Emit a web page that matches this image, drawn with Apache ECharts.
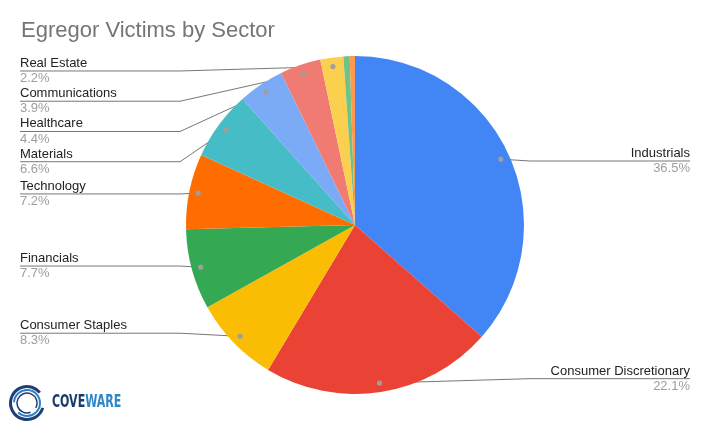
<!DOCTYPE html>
<html><head><meta charset="utf-8">
<script src="https://cdn.jsdelivr.net/npm/echarts@6/dist/echarts.min.js"></script>
<style>html,body{margin:0;padding:0;background:#fff}#c{width:710px;height:433px}</style>
</head><body><div id="c"></div>
<script>
const categories = ['Industrials','Consumer Discretionary','Consumer Staples','Financials','Technology','Materials','Healthcare','Communications','Real Estate','Other (unlabeled)','Other (unlabeled) 2'];
const shares = [36.5, 22.1, 8.3, 7.7, 7.2, 6.6, 4.4, 3.9, 2.2, 0.6, 0.5];
const labeled = [true, true, true, true, true, true, true, true, true, false, false];
const colors = ['#4285F4','#EA4335','#FBBC04','#34A853','#FF6D01','#46BDC6','#7BAAF7','#F07B72','#FCD04F','#71C287','#FF994D'];

const CX = 355, CY = 225, R = 169, DOT_R = 160;
const FONT = '"Liberation Sans", Arial, sans-serif';
const total = shares.reduce((a, b) => a + b, 0);
const mids = [];
let cum = 0;
shares.forEach(v => { mids.push((90 - 360 * (cum + v / 2) / total) * Math.PI / 180); cum += v; });
const dotPos = i => [CX + DOT_R * Math.cos(mids[i]), CY - DOT_R * Math.sin(mids[i])];

const data = categories.map((n, i) => {
  const d = { name: n, value: shares[i], itemStyle: { color: colors[i] } };
  if (!labeled[i]) { d.label = { show: false }; d.labelLine = { show: false }; }
  return d;
});

const dots = [];
categories.forEach((n, i) => {
  if (!labeled[i]) return;
  const p = dotPos(i);
  dots.push({ type: 'circle', z: 100, silent: true, shape: { cx: p[0], cy: p[1], r: 2.6 }, style: { fill: '#9e9e9e' } });
});

const logo = [
  { type: 'arc', silent: true, shape: { cx: 27, cy: 403, r: 16.5, startAngle: 0.3, endAngle: 5.6 }, style: { stroke: '#1d3f74', lineWidth: 3, fill: 'none' } },
  { type: 'arc', silent: true, shape: { cx: 27, cy: 403, r: 13, startAngle: 3.2, endAngle: 8.6 }, style: { stroke: '#2f7fc1', lineWidth: 2, fill: 'none' } },
  { type: 'arc', silent: true, shape: { cx: 27, cy: 403, r: 10, startAngle: 1.2, endAngle: 6.8 }, style: { stroke: '#1d3f74', lineWidth: 1.5, fill: 'none' } },
  { type: 'text', silent: true, x: 52, y: 403, scaleX: 0.72, style: { x: 0, y: 0, verticalAlign: 'middle', text: '{a|COVE}{b|WARE}',
      rich: { a: { fill: '#1b3a6c', fontSize: 17, fontWeight: 'bold', fontFamily: '"DejaVu Sans Condensed","DejaVu Sans",sans-serif' },
              b: { fill: '#2f86c8', fontSize: 17, fontWeight: 'bold', fontFamily: '"DejaVu Sans Condensed","DejaVu Sans",sans-serif' } } } }
];

const chart = echarts.init(document.getElementById('c'), null, { renderer: 'canvas' });
chart.setOption({
  animation: false,
  backgroundColor: '#fff',
  title: { text: 'Egregor Victims by Sector', left: 16, top: 15,
    textStyle: { fontSize: 22, fontWeight: 'normal', color: '#757575', fontFamily: FONT } },
  graphic: dots.concat(logo),
  series: [{
    type: 'pie',
    center: [CX, CY],
    radius: R,
    startAngle: 90,
    clockwise: true,
    data: data,
    itemStyle: { borderWidth: 0 },
    emphasis: { disabled: true },
    label: {
      show: true, alignTo: 'edge', edgeDistance: 20,
      formatter: '{n|{b}}\n{p|{c}%}',
      rich: {
        n: { fontSize: 13, color: '#222', lineHeight: 15.25, fontFamily: FONT },
        p: { fontSize: 13, color: '#9e9e9e', lineHeight: 15.25, fontFamily: FONT }
      }
    },
    labelLine: { show: true, length: -13.5, length2: 0, lineStyle: { color: '#777', width: 1 } },
    labelLayout: function (p) {
      const i = p.dataIndex;
      if (!labeled[i]) return {};
      const d = dotPos(i);
      const r = p.labelRect;
      const ly = r.y + r.height / 2;
      let pts;
      if (Math.cos(mids[i]) < 0) {
        const tx = Math.min(d[0], CX - R - 6);
        pts = [d, [tx, ly], [r.x, ly]];
      } else {
        const tx = Math.max(d[0], CX + R + 6);
        pts = [d, [tx, ly], [r.x + r.width, ly]];
      }
      return { labelLinePoints: pts };
    }
  }]
});
</script></body></html>
